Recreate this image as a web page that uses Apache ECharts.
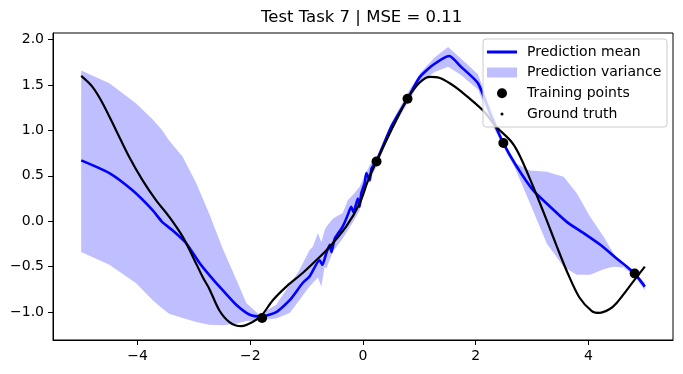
<!DOCTYPE html>
<html>
<head>
<meta charset="utf-8">
<title>Test Task 7</title>
<script src="https://cdn.jsdelivr.net/npm/echarts@6/dist/echarts.min.js"></script>
<style>
  html, body { margin: 0; padding: 0; background: #fff; }
  #chart { width: 683px; height: 374px; }
</style>
</head>
<body>
<div id="chart"></div>
<script>
// tick values
const xTicks = [-4, -2, 0, 2, 4];
const yTicks = [-1.0, -0.5, 0.0, 0.5, 1.0, 1.5, 2.0];

// ground truth
const gtX = [-5.0, -4.8, -4.62, -4.38, -4.15, -3.91, -3.67, -3.44, -3.2, -3.02, -2.84, -2.73, -2.55, -2.37, -2.16, -1.96, -1.79, -1.6, -1.36, -1.07, -0.83, -0.59, -0.3, -0.06, 0.09, 0.24, 0.5, 0.79, 1.01, 1.19, 1.35, 1.54, 1.74, 2.13, 2.35, 2.64, 2.79, 3.02, 3.26, 3.44, 3.63, 3.84, 4.06, 4.19, 4.37, 4.5, 4.8, 5.0];
const gtY = [1.60, 1.48, 1.30, 1.00, 0.71, 0.45, 0.23, 0.05, -0.17, -0.39, -0.62, -0.74, -0.98, -1.11, -1.155, -1.11, -1.03, -0.87, -0.72, -0.57, -0.43, -0.28, -0.06, 0.195, 0.45, 0.66, 1.00, 1.35, 1.53, 1.59, 1.58, 1.52, 1.43, 1.22, 1.05, 0.87, 0.71, 0.38, 0.01, -0.28, -0.57, -0.84, -0.99, -1.01, -0.97, -0.90, -0.66, -0.50];

// prediction mean
const meanX = [-5.0, -4.5, -4.09, -3.73, -3.56, -3.38, -3.14, -2.9, -2.73, -2.49, -2.25, -2.01, -1.79, -1.54, -1.3, -1.07, -0.95, -0.77, -0.72, -0.65, -0.59, -0.56, -0.5, -0.38, -0.33, -0.27, -0.21, -0.17, -0.09, -0.06, -0.03, 0.03, 0.06, 0.12, 0.15, 0.24, 0.5, 0.79, 1.01, 1.24, 1.53, 1.74, 2.04, 2.28, 2.49, 2.73, 3.02, 3.32, 3.62, 3.91, 4.21, 4.5, 4.81, 5.0];
const meanY = [0.67, 0.53, 0.34, 0.12, -0.01, -0.10, -0.24, -0.46, -0.59, -0.76, -0.92, -1.03, -1.05, -1.0, -0.87, -0.68, -0.61, -0.43, -0.48, -0.35, -0.26, -0.34, -0.19, -0.08, -0.02, 0.07, 0.16, 0.10, 0.25, 0.16, 0.31, 0.42, 0.53, 0.45, 0.58, 0.66, 1.04, 1.35, 1.59, 1.72, 1.82, 1.70, 1.52, 1.15, 0.86, 0.60, 0.34, 0.16, -0.01, -0.13, -0.26, -0.41, -0.57, -0.72];

// prediction variance band
const bandX = [-5.0, -4.5, -4.03, -3.73, -3.56, -3.44, -3.2, -2.96, -2.73, -2.49, -2.25, -2.07, -1.84, -1.54, -1.3, -1.13, -0.95, -0.89, -0.8, -0.74, -0.68, -0.65, -0.53, -0.36, -0.27, -0.15, -0.06, 0.03, 0.12, 0.24, 0.5, 0.79, 1.01, 1.28, 1.51, 1.74, 2.04, 2.28, 2.49, 2.7, 2.96, 3.26, 3.56, 3.79, 4.03, 4.27, 4.44, 4.62, 4.81, 5.0];
const bandUpper = [1.66, 1.52, 1.30, 1.12, 1.0, 0.89, 0.71, 0.42, 0.085, -0.30, -0.64, -0.90, -1.03, -0.92, -0.70, -0.54, -0.32, -0.28, -0.13, -0.23, -0.10, -0.06, 0.03, 0.09, 0.23, 0.31, 0.38, 0.50, 0.62, 0.71, 1.08, 1.41, 1.63, 1.81, 1.92, 1.79, 1.62, 1.22, 0.89, 0.64, 0.56, 0.544, 0.49, 0.31, 0.05, -0.17, -0.35, -0.50, -0.55, -0.68];
const bandLower = [-0.34, -0.48, -0.68, -0.87, -0.96, -1.02, -1.065, -1.11, -1.14, -1.145, -1.13, -1.10, -1.09, -1.07, -1.01, -0.87, -0.72, -0.68, -0.62, -0.72, -0.50, -0.52, -0.33, -0.19, -0.10, 0.02, 0.12, 0.36, 0.45, 0.60, 0.99, 1.30, 1.53, 1.645, 1.70, 1.61, 1.45, 1.08, 0.82, 0.58, 0.20, -0.244, -0.50, -0.59, -0.59, -0.53, -0.50, -0.51, -0.60, -0.76];

// training points
const trainX = [-1.79, 0.24, 0.79, 2.49, 4.82];
const trainY = [-1.065, 0.657, 1.349, 0.862, -0.575];

const zip = (xs, ys) => xs.map((x, i) => [x, ys[i]]);
const minus = s => String(s).replace('-', '\u2212');
const font = 'DejaVu Sans';

const chart = echarts.init(document.getElementById('chart'));

// one legend per row so each icon can have its own size
const legendRow = (name, icon, left, top, w, h, pad) => ({
  left: left,
  top: top,
  orient: 'vertical',
  padding: 0,
  itemWidth: w,
  itemHeight: h,
  selectedMode: false,
  z: 8,
  textStyle: { fontFamily: font, fontSize: 14, color: '#000', padding: [0, 0, 0, pad] },
  data: [{ name: name, icon: icon }]
});

chart.setOption({
  animation: false,
  backgroundColor: '#fff',
  title: {
    text: 'Test Task 7 | MSE = 0.11',
    left: 261,
    top: 9,
    padding: 0,
    textStyle: { fontFamily: font, fontSize: 16.5, fontWeight: 'normal', color: '#000' }
  },
  grid: {
    left: 53, right: 10, top: 33, bottom: 34,
    show: true, borderColor: '#000', borderWidth: 1
  },
  legend: [
    legendRow('Prediction mean', 'rect', 487, 45, 30, 3, 5),
    legendRow('Prediction variance', 'rect', 487, 65.5, 30, 10, 5),
    legendRow('Training points', 'circle', 497, 86.3, 10, 10, 15),
    legendRow('Ground truth', 'circle', 500.5, 107, 3, 3, 18.5)
  ],
  graphic: [{
    type: 'rect',
    z: 7,
    shape: { x: 483, y: 39, width: 184, height: 88, r: 3 },
    style: { fill: 'rgba(255,255,255,0.8)', stroke: '#cccccc', lineWidth: 1 }
  }],
  xAxis: {
    type: 'value',
    min: -5.5, max: 5.5,
    axisLine: { show: true, onZero: false, lineStyle: { color: '#000', width: 1 } },
    axisTick: { show: true, length: 5, customValues: xTicks, lineStyle: { color: '#000' } },
    axisLabel: {
      customValues: xTicks, margin: 9,
      fontFamily: font, fontSize: 14, color: '#000',
      formatter: v => minus(v)
    },
    splitLine: { show: false }
  },
  yAxis: {
    type: 'value',
    min: -1.308, max: 2.073,
    axisLine: { show: true, onZero: false, lineStyle: { color: '#000', width: 1 } },
    axisTick: { show: true, length: 5, customValues: yTicks, lineStyle: { color: '#000' } },
    axisLabel: {
      customValues: yTicks, margin: 9,
      fontFamily: font, fontSize: 14, color: '#000',
      formatter: v => minus(v.toFixed(1))
    },
    splitLine: { show: false }
  },
  series: [
    {
      name: 'Prediction variance',
      type: 'custom',
      z: 2,
      silent: true,
      itemStyle: { color: '#bfbfff' },
      data: [[0, 0]],
      renderItem: (params, api) => {
        const top = bandX.map((x, i) => api.coord([x, bandUpper[i]]));
        const bottom = bandX.map((x, i) => api.coord([x, bandLower[i]])).reverse();
        return {
          type: 'polygon',
          shape: { points: top.concat(bottom) },
          style: { fill: '#bfbfff' }
        };
      }
    },
    {
      name: 'Prediction mean',
      type: 'line',
      z: 3,
      symbol: 'none',
      smooth: 0.2,
      lineStyle: { color: '#0000ff', width: 2.6 },
      itemStyle: { color: '#0000ff' },
      data: zip(meanX, meanY)
    },
    {
      name: 'Training points',
      type: 'scatter',
      z: 4,
      symbolSize: 10,
      itemStyle: { color: '#000', opacity: 1 },
      data: zip(trainX, trainY)
    },
    {
      name: 'Ground truth',
      type: 'line',
      z: 5,
      symbol: 'none',
      smooth: 0.3,
      lineStyle: { color: '#000', width: 2.2 },
      itemStyle: { color: '#000' },
      data: zip(gtX, gtY)
    }
  ]
});

window.addEventListener('resize', () => chart.resize());
</script>
</body>
</html>
